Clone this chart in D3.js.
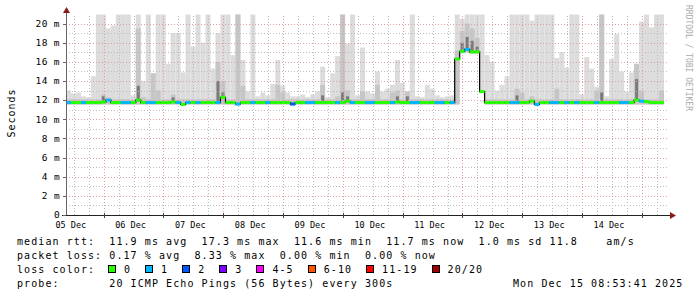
<!DOCTYPE html>
<html>
<head>
<meta charset="utf-8">
<script src="https://cdn.jsdelivr.net/npm/d3@7"></script>
<style>
  body { margin: 0; background: #fff; }
  svg { display: block; }
  text { font-family: "DejaVu Sans Mono", monospace; fill: #000; }
</style>
</head>
<body>
<div id="wrapper"></div>
<script>
// 10 days of smokeping data, 2 hour bins (120 bins)
const startTime = new Date(Date.UTC(2025, 11, 5, 8, 53));
const endTime = new Date(Date.UTC(2025, 11, 15, 8, 53));
const binHours = 2;

// top of the smoke (max ping, ms) - 21 means clipped at top of graph
const smokeTop = [
  13.0, 12.7, 12.8, 12.4, 12.3, 14.5, 21, 21, 19.5, 19.8, 21, 21,
  21, 12.5, 21, 14.0, 21, 14.8, 21, 21, 15.8, 19.0, 19.0, 14.9,
  21, 17.6, 21, 18.0, 21, 15.3, 19.0, 21, 21, 16.7, 21, 16.2,
  12.9, 21, 12.4, 12.8, 12.5, 13.7, 16.2, 13.5, 12.8, 12.4, 12.4, 12.6,
  12.3, 12.6, 12.9, 15.5, 12.3, 14.8, 16.6, 21, 17.9, 21, 12.5, 17.5,
  12.9, 12.7, 15.0, 12.9, 13.2, 13.6, 16.2, 13.8, 12.9, 21, 12.4, 12.3,
  13.6, 13.2, 12.5, 12.3, 12.4, 12.5, 21, 20.5, 21, 21, 21, 21,
  16.7, 16.0, 13.0, 13.6, 14.5, 21, 21, 21, 21, 20.3, 21, 21,
  21, 21, 16.4, 17.0, 15.4, 21, 21, 12.6, 16.5, 15.3, 13.4, 21,
  12.4, 16.3, 18.9, 15.0, 12.9, 14.9, 15.8, 20.2, 21, 19.6, 21, 21
];

// medium grey smoke upper bound (ms)
const smokeMid = [
  12.1, 12.1, 12.1, 12.1, 12.1, 12.1, 12.1, 12.6, 12.3, 12.1, 12.1, 12.1,
  12.1, 12.1, 19.5, 12.3, 12.1, 14.8, 13.0, 12.1, 12.1, 12.6, 12.1, 12.1,
  12.1, 12.1, 12.1, 12.1, 12.1, 12.1, 16.0, 14.0, 12.1, 12.1, 21, 13.5,
  12.1, 12.1, 12.1, 12.1, 12.1, 12.1, 13.6, 12.8, 12.1, 12.1, 12.1, 12.1,
  12.1, 12.1, 12.1, 13.6, 12.1, 12.1, 12.4, 21, 13.0, 12.1, 12.1, 12.9,
  12.1, 12.1, 13.6, 12.1, 12.1, 12.8, 13.0, 12.1, 12.9, 12.1, 12.1, 12.1,
  12.1, 12.1, 12.1, 12.1, 12.1, 12.1, 17.2, 19.2, 20.0, 19.5, 18.5, 12.1,
  12.1, 12.1, 12.1, 12.1, 12.1, 12.1, 13.2, 12.8, 12.1, 12.4, 12.1, 12.1,
  12.1, 12.1, 13.2, 12.1, 12.1, 12.1, 12.1, 12.1, 12.1, 12.1, 13.0, 21,
  12.1, 12.1, 12.1, 12.1, 12.1, 12.1, 15.8, 13.0, 12.1, 12.1, 12.1, 13.0
];

// dark smoke just around the median (ms), 0 = none
const smokeDark = [
  0, 0, 0, 0, 0, 0, 0, 12.4, 0, 0, 0, 0,
  0, 0, 13.5, 0, 0, 0, 0, 0, 0, 12.3, 0, 0,
  0, 0, 0, 0, 0, 0, 14.0, 12.8, 0, 0, 0, 0,
  0, 0, 0, 0, 0, 0, 0, 0, 0, 0, 0, 0,
  0, 0, 0, 12.5, 0, 0, 0, 12.8, 12.4, 0, 0, 0,
  0, 0, 0, 0, 0, 0, 12.4, 0, 12.4, 0, 0, 0,
  0, 0, 0, 0, 0, 0, 0, 18.0, 18.6, 18.2, 17.6, 0,
  0, 0, 0, 0, 0, 0, 12.5, 0, 0, 0, 0, 0,
  0, 0, 0, 0, 0, 0, 0, 0, 0, 0, 0, 12.8,
  0, 0, 0, 0, 0, 0, 14.2, 0, 0, 0, 0, 0
];

// bottom of the smoke (min ping, ms)
const smokeMin = [
  11.55, 11.55, 11.55, 11.55, 11.55, 11.55, 11.55, 11.55, 11.55, 11.55, 11.55, 11.55,
  11.55, 11.55, 11.55, 11.55, 11.55, 11.55, 11.55, 11.55, 11.55, 11.55, 11.55, 11.45,
  11.55, 11.55, 11.55, 11.55, 11.55, 11.55, 11.55, 11.55, 11.55, 11.55, 11.45, 11.55,
  11.55, 11.55, 11.55, 11.55, 11.55, 11.55, 11.55, 11.55, 11.55, 11.45, 11.55, 11.55,
  11.55, 11.55, 11.55, 11.55, 11.55, 11.55, 11.55, 11.55, 11.55, 11.55, 11.55, 11.55,
  11.55, 11.55, 11.55, 11.55, 11.55, 11.55, 11.55, 11.55, 11.55, 11.55, 11.55, 11.55,
  11.55, 11.55, 11.55, 11.55, 11.55, 11.55, 11.55, 16.9, 17.0, 16.85, 16.85, 12.7,
  11.55, 11.55, 11.55, 11.55, 11.55, 11.55, 11.55, 11.55, 11.55, 11.55, 11.45, 11.55,
  11.55, 11.55, 11.55, 11.55, 11.55, 11.55, 11.55, 11.55, 11.55, 11.55, 11.55, 11.55,
  11.55, 11.55, 11.55, 11.55, 11.55, 11.55, 11.55, 11.55, 11.55, 11.55, 11.55, 11.55
];

// median rtt (ms)
const medianRtt = [
  11.75, 11.75, 11.75, 11.75, 11.75, 11.75, 11.75, 11.8, 12.0, 11.75, 11.75, 11.75,
  11.75, 11.75, 12.0, 11.75, 11.75, 11.75, 11.75, 11.75, 11.75, 11.8, 11.75, 11.55,
  11.75, 11.75, 11.75, 11.75, 11.75, 11.75, 11.75, 12.3, 11.75, 11.75, 11.6, 11.75,
  11.75, 11.75, 11.75, 11.75, 11.75, 11.75, 11.75, 11.75, 11.75, 11.6, 11.75, 11.75,
  11.75, 11.75, 11.75, 11.75, 11.75, 11.75, 11.75, 11.75, 11.9, 11.75, 11.75, 11.75,
  11.75, 11.75, 11.75, 11.75, 11.75, 11.75, 11.8, 11.75, 11.75, 11.75, 11.75, 11.75,
  11.75, 11.75, 11.75, 11.75, 11.75, 11.75, 16.3, 17.1, 17.3, 17.05, 17.05, 12.9,
  11.75, 11.75, 11.75, 11.75, 11.75, 11.75, 11.75, 11.75, 11.75, 11.9, 11.55, 11.75,
  11.75, 11.75, 11.75, 11.75, 11.75, 11.75, 11.75, 11.75, 11.75, 11.75, 11.75, 11.75,
  11.75, 11.75, 11.75, 11.75, 11.75, 11.75, 12.0, 11.9, 11.85, 11.75, 11.75, 11.75
];

// lost pings out of 20
const lossCount = [
  1, 0, 0, 1, 0, 0, 0, 0, 1, 0, 0, 1,
  1, 0, 0, 0, 1, 1, 0, 0, 0, 0, 1, 0,
  1, 0, 1, 0, 0, 0, 1, 0, 0, 0, 1, 0,
  0, 1, 0, 0, 1, 0, 0, 0, 0, 2, 0, 0,
  1, 1, 0, 0, 0, 0, 1, 0, 0, 1, 0, 0,
  1, 1, 0, 0, 0, 1, 0, 0, 0, 1, 1, 0,
  0, 0, 1, 1, 0, 1, 0, 0, 1, 0, 0, 0,
  0, 0, 0, 0, 0, 1, 1, 0, 0, 0, 1, 0,
  0, 1, 1, 0, 1, 0, 1, 0, 0, 0, 1, 0,
  0, 0, 0, 1, 1, 0, 0, 1, 0, 0, 0, 0
];

const lossLabels = ["0", "1", "2", "3", "4-5", "6-10", "11-19", "20/20"];
const lossColors = ["#26ff00", "#00b8ff", "#0059ff", "#7e00ff", "#ff00ff", "#ff5500", "#ff0000", "#a10000"];

const yTicks = [0, 2, 4, 6, 8, 10, 12, 14, 16, 18, 20];
const yTickLabels = ["0", "2 m", "4 m", "6 m", "8 m", "10 m", "12 m", "14 m", "16 m", "18 m", "20 m"];

const legendRtt = "median rtt:  11.9 ms avg  17.3 ms max  11.6 ms min  11.7 ms now  1.0 ms sd 11.8    am/s";
const legendLoss = "packet loss: 0.17 % avg  8.33 % max  0.00 % min  0.00 % now";
const legendProbe = "probe:       20 ICMP Echo Pings (56 Bytes) every 300s";
const stampText = "Mon Dec 15 08:53:41 2025";

const lossIndex = n => n === 0 ? 0 : n === 1 ? 1 : n === 2 ? 2 : n === 3 ? 3 : n <= 5 ? 4 : n <= 10 ? 5 : n <= 19 ? 6 : 7;

const bins = smokeTop.map((top, i) => ({
  t0: d3.utcHour.offset(startTime, i * binHours),
  t1: d3.utcHour.offset(startTime, (i + 1) * binHours),
  top: top, mid: smokeMid[i], dark: smokeDark[i], min: smokeMin[i],
  median: medianRtt[i], loss: lossCount[i]
}));

const width = 697, height = 297;
const svg = d3.select("#wrapper").append("svg")
  .attr("width", width).attr("height", height);
svg.append("rect").attr("width", width).attr("height", height).attr("fill", "#fff");

const x = d3.scaleUtc().domain([startTime, endTime]).range([66, 664]);
const y = d3.scaleLinear().domain([0, 20]).range([215, 23.6]);
const yMax = 20.95;
const clipY = v => y(Math.min(v, yMax));

// smoke
const smoke = svg.append("g");
smoke.selectAll(".light").data(bins).join("rect")
  .attr("x", d => x(d.t0)).attr("width", d => x(d.t1) - x(d.t0))
  .attr("y", d => clipY(d.top)).attr("height", d => y(d.min) - clipY(d.top))
  .attr("fill", "#dcdcdc");
smoke.selectAll(".mid").data(bins.filter(d => d.mid > d.min)).join("rect")
  .attr("x", d => x(d.t0)).attr("width", d => x(d.t1) - x(d.t0))
  .attr("y", d => clipY(d.mid)).attr("height", d => y(d.min) - clipY(d.mid))
  .attr("fill", "#c6c6c6");
smoke.selectAll(".dark").data(bins.filter(d => d.dark > 0)).join("rect")
  .attr("x", d => x(d.t0) + 1).attr("width", d => x(d.t1) - x(d.t0) - 2)
  .attr("y", d => clipY(d.dark)).attr("height", d => y(d.median) - clipY(d.dark))
  .attr("fill", "#7a7a7a");

// grid
const grid = svg.append("g").attr("shape-rendering", "crispEdges");
const minorY = d3.range(1, 21, 1).filter(v => v % 2 !== 0);
const majorY = yTicks.filter(v => v > 0);
const sixHours = d3.utcHour.every(6).range(startTime, endTime).filter(t => t.getUTCHours() !== 0);
const days = d3.utcDay.range(startTime, endTime);
const gridTop = y(yMax);

grid.selectAll(".hmin").data(minorY).join("line")
  .attr("x1", 66).attr("x2", 668)
  .attr("y1", d => Math.round(y(d)) + 0.5).attr("y2", d => Math.round(y(d)) + 0.5)
  .attr("stroke", "#bdbdbd").attr("stroke-dasharray", "1,2");
grid.selectAll(".vmin").data(sixHours).join("line")
  .attr("x1", d => Math.round(x(d)) + 0.5).attr("x2", d => Math.round(x(d)) + 0.5)
  .attr("y1", 215).attr("y2", gridTop)
  .attr("stroke", "#bdbdbd").attr("stroke-dasharray", "1,2");
grid.selectAll(".hmaj").data(majorY).join("line")
  .attr("x1", 66).attr("x2", 668)
  .attr("y1", d => Math.round(y(d)) + 0.5).attr("y2", d => Math.round(y(d)) + 0.5)
  .attr("stroke", "#e0a0a0").attr("stroke-dasharray", "1,2");
grid.selectAll(".vmaj").data(days).join("line")
  .attr("x1", d => Math.round(x(d)) + 0.5).attr("x2", d => Math.round(x(d)) + 0.5)
  .attr("y1", 215).attr("y2", gridTop)
  .attr("stroke", "#e0a0a0").attr("stroke-dasharray", "1,2");

// median: thin black step line, then loss coloured segments
const stepData = bins.map(d => [d.t0, d.median]).concat([[endTime, bins[bins.length - 1].median]]);
svg.append("path")
  .attr("d", d3.line().x(d => x(d[0])).y(d => y(d[1])).curve(d3.curveStepAfter)(stepData))
  .attr("fill", "none").attr("stroke", "#000").attr("stroke-width", 1.2);
svg.append("g").selectAll("line").data(bins).join("line")
  .attr("x1", d => x(d.t0)).attr("x2", d => x(d.t1))
  .attr("y1", d => y(d.median)).attr("y2", d => y(d.median))
  .attr("stroke", d => lossColors[lossIndex(d.loss)]).attr("stroke-width", 3);

// axes
const axis = svg.append("g").attr("shape-rendering", "crispEdges");
axis.append("line").attr("x1", 66.5).attr("x2", 66.5).attr("y1", 215).attr("y2", 9).attr("stroke", "#666");
axis.append("line").attr("x1", 62).attr("x2", 671).attr("y1", 215.5).attr("y2", 215.5).attr("stroke", "#222");
axis.selectAll(".ytick").data(yTicks).join("line")
  .attr("x1", 63).attr("x2", 66)
  .attr("y1", d => Math.round(y(d)) + 0.5).attr("y2", d => Math.round(y(d)) + 0.5)
  .attr("stroke", "#666");
axis.selectAll(".xtick").data(days).join("line")
  .attr("x1", d => Math.round(x(d)) + 0.5).attr("x2", d => Math.round(x(d)) + 0.5)
  .attr("y1", 213).attr("y2", 218).attr("stroke", "#444");
svg.append("path").attr("d", "M63,13L70,13L66.5,7Z").attr("fill", "#8b1a1a");
svg.append("path").attr("d", "M670,212L670,219L676,215.5Z").attr("fill", "#8b1a1a");

// tick labels (day labels centred on noon, only those inside the range)
const labelDays = [d3.utcDay.floor(startTime)].concat(days)
  .filter(d => d3.utcHour.offset(d, 12) < endTime);
svg.append("g").selectAll("text").data(yTicks).join("text")
  .attr("x", 60).attr("y", d => y(d) + 3.3)
  .attr("text-anchor", "end").style("font-size", "9.5px").style("letter-spacing", "0.4px")
  .text((d, i) => yTickLabels[i]);
svg.append("g").selectAll("text").data(labelDays).join("text")
  .attr("x", d => x(d3.utcHour.offset(d, 12)) - 3).attr("y", 227.5)
  .attr("text-anchor", "middle").style("font-size", "8.5px")
  .text(d => d3.utcFormat("%d %b")(d));

// y title and watermark
svg.append("text").attr("transform", "translate(15,113) rotate(-90)")
  .attr("text-anchor", "middle").style("font-size", "10px").style("letter-spacing", "1px")
  .text("Seconds");
svg.append("text").attr("transform", "translate(686,5) rotate(90)")
  .style("font-size", "8px").style("fill", "#aaa")
  .text("RRDTOOL / TOBI OETIKER");

// legend
const legend = svg.append("g").style("font-size", "10px").style("letter-spacing", "1.08px");
legend.append("text").attr("x", 17).attr("y", 244.5).style("white-space", "pre").text(legendRtt);
legend.append("text").attr("x", 17).attr("y", 258.5).style("white-space", "pre").text(legendLoss);
legend.append("text").attr("x", 17).attr("y", 272.5).style("white-space", "pre").text("loss color:");
legend.append("text").attr("x", 17).attr("y", 286.5).style("white-space", "pre").text(legendProbe);
legend.append("text").attr("x", 513).attr("y", 286.5).text(stampText);

let boxX = 108;
lossLabels.forEach((lab, i) => {
  legend.append("rect").attr("x", boxX + 0.5).attr("y", 265.5).attr("width", 7).attr("height", 7)
    .attr("fill", lossColors[i]).attr("stroke", "#000").attr("stroke-width", 1)
    .attr("shape-rendering", "crispEdges");
  legend.append("text").attr("x", boxX + 16).attr("y", 272.5).text(lab);
  boxX += 16 + lab.length * 7.1 + 14;
});
</script>
</body>
</html>
